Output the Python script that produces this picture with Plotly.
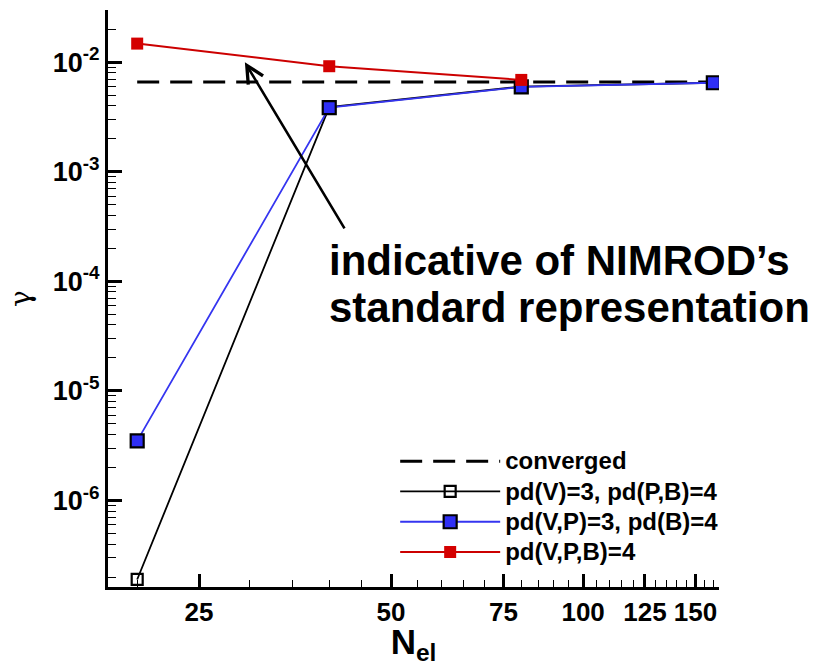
import math
import plotly.graph_objects as go

# ---- data ----
n_el = [20, 40, 80, 160]
gamma_v3_pb4 = [1.9e-7, 3.9e-3, 6.0e-3, 6.5e-3]
gamma_vp3_b4 = [3.5e-6, 3.85e-3, 5.95e-3, 6.5e-3]
n_el_red = [20, 40, 80]
gamma_vpb4 = [1.48e-2, 9.2e-3, 6.9e-3]
converged_x = [20, 160]
converged_y = [6.6e-3, 6.6e-3]

series_names = ["converged", "pd(V)=3, pd(P,B)=4", "pd(V,P)=3, pd(B)=4", "pd(V,P,B)=4"]

x_major = [25, 50, 75, 100, 125, 150]
x_minor = [20, 30, 35, 40, 45, 55, 60, 65, 70, 80, 85, 90, 95,
           105, 110, 115, 120, 130, 135, 140, 145, 155, 160]
y_major = [1e-6, 1e-5, 1e-4, 1e-3, 1e-2]
y_major_text = ["10<sup>-6</sup>", "10<sup>-5</sup>", "10<sup>-4</sup>",
                "10<sup>-3</sup>", "10<sup>-2</sup>"]
y_minor = [m * 10.0 ** e for e in range(-7, -1) for m in range(2, 10)
           if m * 10.0 ** e >= 1.6e-7 and m * 10.0 ** e <= 3.0e-2]

FONT = "Liberation Sans, Arial, sans-serif"


def leg(name):
    return f'<span style="font-size:24px"><b>{name}</b></span>'


fig = go.Figure()
fig.add_trace(go.Scatter(
    x=converged_x, y=converged_y, mode="lines", name=leg(series_names[0]),
    line=dict(color="black", width=3, dash="22px,11px")))
fig.add_trace(go.Scatter(
    x=n_el, y=gamma_v3_pb4, mode="lines+markers", name=leg(series_names[1]),
    line=dict(color="black", width=1.8),
    marker=dict(symbol="square-open", size=11, color="black", line=dict(width=2.2, color="black"))))
fig.add_trace(go.Scatter(
    x=n_el, y=gamma_vp3_b4, mode="lines+markers", name=leg(series_names[2]),
    line=dict(color="#3535f0", width=1.8),
    marker=dict(symbol="square", size=13, color="#2f2ff5", line=dict(width=2.2, color="black"))))
fig.add_trace(go.Scatter(
    x=n_el_red, y=gamma_vpb4, mode="lines+markers", name=leg(series_names[3]),
    line=dict(color="#cc0000", width=2),
    marker=dict(symbol="square", size=12, color="#d40000", line=dict(width=0))))

fig.add_annotation(
    x=math.log10(29.5), y=-2.0, ax=math.log10(42.4), ay=math.log10(2.95e-4),
    xref="x", yref="y", axref="x", ayref="y", text="",
    showarrow=True, arrowhead=5, arrowsize=1.3, arrowwidth=2.6, arrowcolor="black")
fig.add_annotation(
    x=0.358, y=0.566, xref="paper", yref="paper", xanchor="left", yanchor="middle",
    text="<b>indicative of NIMROD’s</b>", showarrow=False,
    font=dict(family=FONT, size=42, color="black"))
fig.add_annotation(
    x=0.358, y=0.484, xref="paper", yref="paper", xanchor="left", yanchor="middle",
    text="<b>standard representation</b>", showarrow=False,
    font=dict(family=FONT, size=42, color="black"))

fig.update_layout(
    width=817, height=666,
    margin=dict(l=108, r=98, t=10, b=71),
    paper_bgcolor="white", plot_bgcolor="white",
    font=dict(family=FONT, color="black"),
    showlegend=True,
    legend=dict(x=0.47, y=0.253, xanchor="left", yanchor="top",
                font=dict(family=FONT, size=21, color="black"),
                bgcolor="rgba(0,0,0,0)", tracegroupgap=0, itemwidth=100),
    xaxis=dict(
        type="log", range=[math.log10(18.0), math.log10(163.3)],
        showline=True, linecolor="black", linewidth=3, mirror=False,
        showgrid=False, zeroline=False,
        tickmode="array", tickvals=x_major, ticktext=[f"<b>{v}</b>" for v in x_major],
        ticks="inside", ticklen=13, tickwidth=2.5, tickcolor="black",
        tickfont=dict(family=FONT, size=26, color="black"),
        minor=dict(tickmode="array", tickvals=x_minor, ticks="inside",
                   ticklen=7, tickwidth=1.2, tickcolor="black", showgrid=False),
        title=dict(text="<b>N<sub>el</sub></b>", font=dict(family=FONT, size=35, color="black"),
                   standoff=4),
    ),
    yaxis=dict(
        type="log", range=[-6.79, -1.523],
        showline=True, linecolor="black", linewidth=3, mirror=False,
        showgrid=False, zeroline=False,
        tickmode="array", tickvals=y_major, ticktext=[f"<b>{t}</b>" for t in y_major_text],
        ticks="inside", ticklen=14, tickwidth=2.5, tickcolor="black",
        tickfont=dict(family=FONT, size=27, color="black"),
        minor=dict(tickmode="array", tickvals=y_minor, ticks="inside",
                   ticklen=8, tickwidth=1.2, tickcolor="black", showgrid=False),
        title=dict(text="γ", font=dict(family="DejaVu Serif, serif", size=28, color="black"),
                   standoff=14),
    ),
)

fig.write_html("out.html")
